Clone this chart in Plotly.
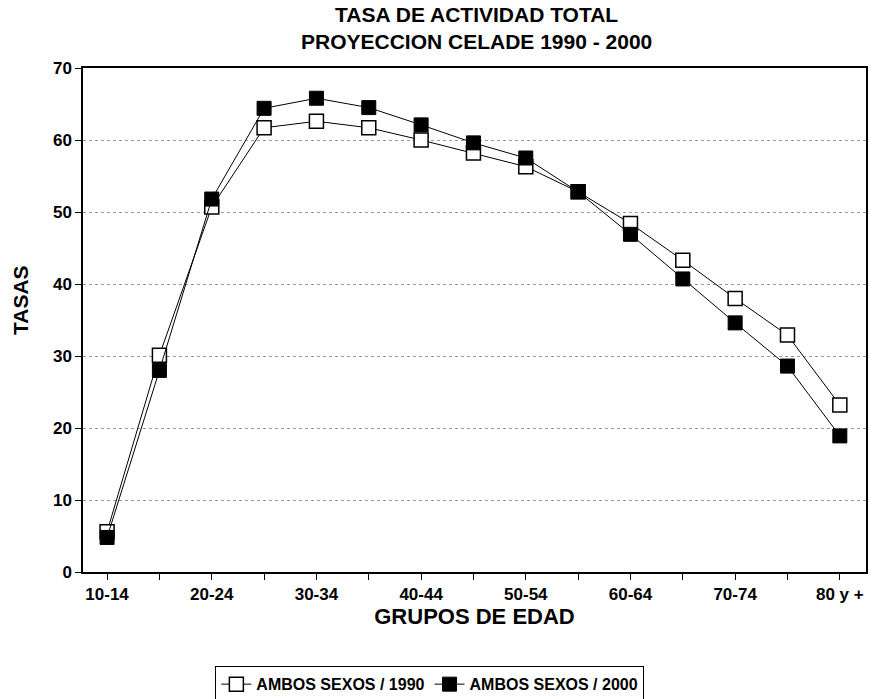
import plotly.graph_objects as go

grupos = ["10-14", "15-19", "20-24", "25-29", "30-34", "35-39", "40-44", "45-49",
          "50-54", "55-59", "60-64", "65-69", "70-74", "75-79", "80 y +"]
tasa_1990 = [5.6, 30.1, 50.7, 61.7, 62.6, 61.7, 60.0, 58.2, 56.3, 52.8, 48.4, 43.3, 38.0, 32.9, 23.2]
tasa_2000 = [4.8, 28.0, 51.8, 64.4, 65.8, 64.5, 62.1, 59.6, 57.5, 52.8, 46.9, 40.7, 34.6, 28.6, 18.9]
etiquetas = [g if i % 2 == 0 else "" for i, g in enumerate(grupos)]

FONT = "Liberation Sans, Arial, sans-serif"

fig = go.Figure()
fig.add_trace(go.Scatter(
    x=grupos, y=tasa_1990, mode="lines+markers", name="AMBOS SEXOS / 1990",
    line=dict(color="black", width=1),
    marker=dict(symbol="square", size=14, color="white", line=dict(color="black", width=1.5)),
))
fig.add_trace(go.Scatter(
    x=grupos, y=tasa_2000, mode="lines+markers", name="AMBOS SEXOS / 2000",
    line=dict(color="black", width=1),
    marker=dict(symbol="square", size=14, color="black", line=dict(color="black", width=1)),
))

fig.add_annotation(
    text="TASA DE ACTIVIDAD TOTAL<br>PROYECCION CELADE 1990 - 2000",
    xref="paper", yref="paper", x=0.503, y=(572 - 28) / 504,
    xanchor="center", yanchor="middle", showarrow=False,
    font=dict(family=FONT, size=21, weight="bold"),
)
fig.add_annotation(
    text="TASAS", textangle=-90,
    xref="paper", yref="paper", x=(20 - 83) / 783, y=(572 - 300) / 504,
    xanchor="center", yanchor="middle", showarrow=False,
    font=dict(family=FONT, size=21, weight="bold"),
)

fig.update_layout(
    width=872, height=699,
    margin=dict(l=83, r=6, t=68, b=127, autoexpand=False),
    paper_bgcolor="white", plot_bgcolor="white",
    font=dict(family=FONT, color="black", size=16, weight="bold"),
    showlegend=True,
    legend=dict(orientation="h", x=0.443, xanchor="center", y=-0.187, yanchor="top",
                bordercolor="black", borderwidth=1, bgcolor="white",
                font=dict(family=FONT, size=16, weight="bold"),
                itemwidth=30, tracegroupgap=0),
    xaxis=dict(
        type="category", range=[-0.46, 14.5], automargin=False,
        tickmode="array", tickvals=grupos, ticktext=etiquetas,
        ticks="outside", ticklen=6, tickcolor="black",
        showline=True, linecolor="black", linewidth=1.5, mirror=True,
        showgrid=False, zeroline=False,
        tickfont=dict(family=FONT, size=17, weight="bold"),
        title=dict(text="GRUPOS DE EDAD", font=dict(family=FONT, size=22, weight="bold"), standoff=5),
    ),
    yaxis=dict(
        range=[0, 70], tickvals=[0, 10, 20, 30, 40, 50, 60, 70], automargin=False,
        ticks="outside", ticklen=6, tickcolor="black",
        showline=True, linecolor="black", linewidth=1.5, mirror=True,
        showgrid=True, gridcolor="#999999", griddash="dot", gridwidth=1,
        zeroline=False,
        tickfont=dict(family=FONT, size=17, weight="bold"),
    ),
)

fig.write_html("out.html", config={"displayModeBar": False},
               post_script="document.body.style.margin='0';document.body.style.overflow='hidden';")
